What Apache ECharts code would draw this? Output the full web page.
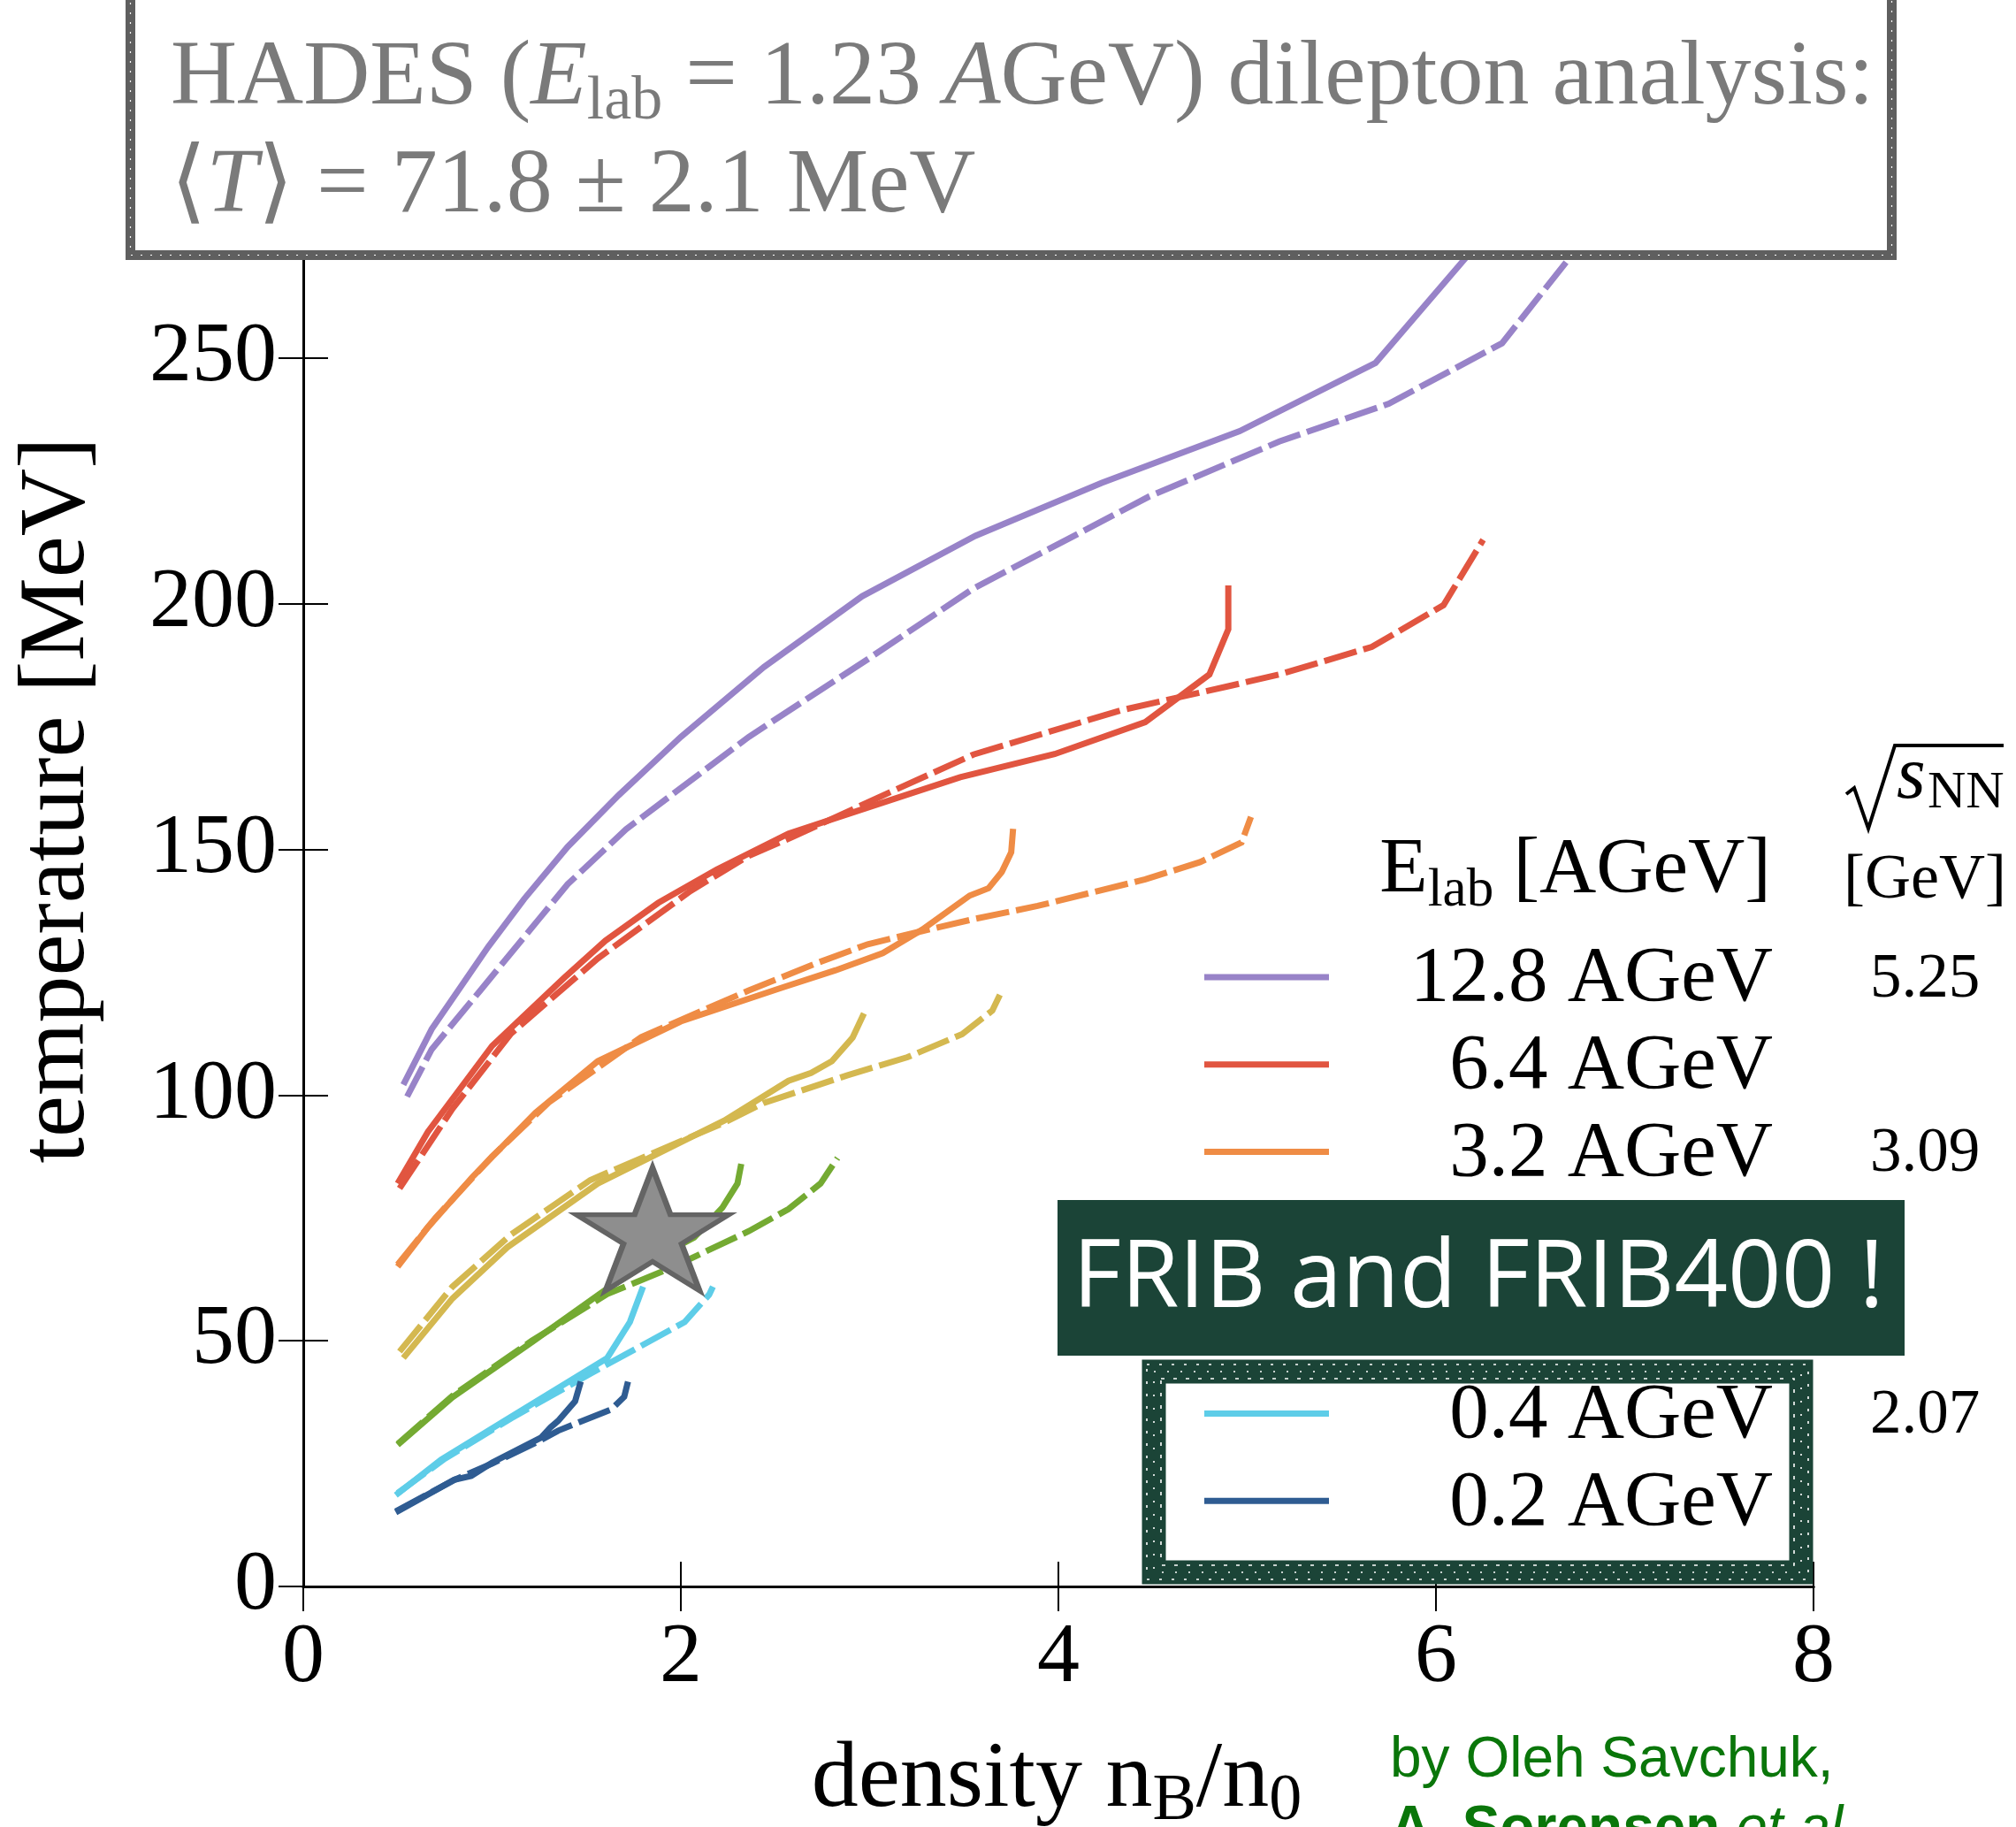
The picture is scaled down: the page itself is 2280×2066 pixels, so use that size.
<!DOCTYPE html>
<html><head><meta charset="utf-8">
<script src="https://cdn.jsdelivr.net/npm/echarts@6/dist/echarts.min.js"></script>
<style>html,body{margin:0;padding:0;background:#fff}#c{width:2280px;height:2066px}</style>
</head><body><div id="c"></div>
<script>
// ---------- data ----------
const energies = ['12.8 AGeV','6.4 AGeV','3.2 AGeV','1.6 AGeV','0.8 AGeV','0.4 AGeV','0.2 AGeV'];
const sqrtSNN  = ['5.25','','3.09','','','2.07',''];
const xTicks = [0, 2, 4, 6, 8];
const yTicks = [0, 50, 100, 150, 200, 250];
const yMaxHidden = 300;

const solid_12_8 = [[0.53,102.1],[0.68,113.4],[0.98,130.2],[1.17,139.9],[1.40,150.5],[1.67,161],[2.00,172.9],[2.44,187.1],[2.96,201.5],[3.56,213.8],[4.23,224.6],[4.96,235.1],[5.68,249],[6.16,270.5]];
const dashed_12_8 = [[0.55,99.7],[0.68,109.3],[0.94,121.4],[1.25,135.9],[1.40,142.9],[1.71,154.1],[2.36,172.9],[2.99,188.7],[3.55,203.1],[4.48,221.8],[5.17,233],[5.75,240.7],[6.35,253],[6.70,270]];
const solid_6_4 = [[0.50,82],[0.66,92.5],[1.00,110],[1.38,123.8],[1.60,131.4],[1.88,139.1],[2.19,145.9],[2.57,153.2],[2.98,158.4],[3.48,164.7],[3.98,169.4],[4.46,175.9],[4.80,185.6],[4.90,194.8],[4.90,203.7]];
const dashed_6_4 = [[0.51,81],[0.79,97.2],[1.10,112.5],[1.56,127.8],[2.05,141.5],[2.36,148.7],[2.59,152.5],[3.10,161.5],[3.55,169.3],[4.33,178.3],[4.90,183.2],[5.17,185.6],[5.66,191.2],[6.04,199.7],[6.25,213]];
const solid_3_2 = [[0.50,65.1],[0.66,73.1],[0.90,83.5],[1.23,96.4],[1.56,106.9],[2.00,115],[2.53,121.8],[2.82,125.4],[3.07,128.9],[3.28,133.7],[3.53,140.6],[3.63,142.1],[3.70,145.4],[3.75,149.4],[3.76,154.2]];
const dashed_3_2 = [[0.50,65.5],[0.70,75],[1.00,87.5],[1.30,98.5],[1.79,111.8],[2.36,121.3],[2.73,127],[2.99,130.7],[3.28,133.4],[3.55,135.8],[3.89,138.5],[4.46,143.9],[4.75,147.4],[4.97,151.4],[5.02,156.6]];
const solid_1_6 = [[0.53,46.5],[0.79,58.6],[1.08,69],[1.56,82],[2.23,94.8],[2.57,102.9],[2.69,104.5],[2.80,106.9],[2.91,111.7],[2.97,116.6]];
const dashed_1_6 = [[0.51,47.8],[0.79,61],[1.10,71.6],[1.52,82.7],[2.23,94.4],[2.44,98.4],[2.88,104],[3.20,107.7],[3.49,112.4],[3.65,117.2],[3.69,120.4]];
const solid_0_8 = [[0.50,28.8],[0.79,38.5],[1.21,49.7],[1.61,60.6],[1.86,66.7],[2.07,71],[2.22,77.1],[2.30,82],[2.32,86]];
const dashed_0_8 = [[0.50,29],[0.79,38.8],[1.21,50],[1.61,59.5],[1.94,64.7],[2.36,72.3],[2.57,76.8],[2.74,82],[2.83,87.2]];
const solid_0_4 = [[0.49,18.6],[0.73,25.8],[1.10,34.5],[1.61,46.5],[1.73,53.8],[1.80,61]];
const dashed_0_4 = [[0.50,19],[0.75,26],[1.10,34.2],[1.52,43.3],[2.02,53.8],[2.15,59.4],[2.17,61]];
const solid_0_2 = [[0.49,15.1],[0.80,21.7],[0.89,22.5],[1.00,25.2],[1.26,30.3],[1.31,32.4],[1.35,33.7],[1.44,37.7],[1.47,41.7]];
const dashed_0_2 = [[0.49,15.3],[0.80,21.7],[1.00,25],[1.25,29.6],[1.35,31.7],[1.63,36],[1.70,38.6],[1.72,41.7]];
const hadesPoint = [[1.85, 72.7]];

// ---------- styling ----------
const colors = ['#9883c8','#e15540','#ef8c45','#d4b850','#74aa32','#5ecde8','#2f5c92'];
const solidSets = [solid_12_8, solid_6_4, solid_3_2, solid_1_6, solid_0_8, solid_0_4, solid_0_2];
const dashedSets = [dashed_12_8, dashed_6_4, dashed_3_2, dashed_1_6, dashed_0_8, dashed_0_4, dashed_0_2];
const SERIF = '"Liberation Serif", "DejaVu Serif", serif';
const SANS = '"Liberation Sans", Arial, sans-serif';
const LW = 7;

const series = [];
energies.forEach((e, i) => {
  series.push({type:'line', name:e, data:solidSets[i], symbol:'none', showSymbol:false, animation:false, z:3,
    itemStyle:{color:colors[i]}, lineStyle:{color:colors[i], width:LW, cap:'butt', join:'miter'}});
  series.push({type:'line', name:e + ' (dashed)', data:dashedSets[i], symbol:'none', showSymbol:false, animation:false, z:3,
    itemStyle:{color:colors[i]}, lineStyle:{color:colors[i], width:LW, type:[38,8], cap:'butt', join:'miter'}});
});
series.push({type:'scatter', name:'HADES', data:hadesPoint, z:10, animation:false,
  symbol:'path://M50,0L61.23,34.55L97.55,34.55L68.17,55.9L79.39,90.45L50,69.1L20.61,90.45L31.83,55.9L2.45,34.55L38.77,34.55Z',
  symbolSize:[172,139], itemStyle:{color:'#8e8e8e', borderColor:'#646464', borderWidth:6, opacity:1}});

const axisCommon = {
  axisLine:{show:true, lineStyle:{color:'#000', width:3}},
  axisTick:{show:true, inside:true, length:28, lineStyle:{color:'#000', width:2}},
  splitLine:{show:false}
};

function txt(x, y, text, font, fill, align) {
  return {type:'text', x:x, y:y, z:60, silent:true,
    style:{text:text, x:0, y:0, font:font, fill:fill, textAlign:align || 'left', align:align || 'left', textVerticalAlign:'middle', verticalAlign:'middle'}};
}

const graphic = [];
// y axis title
graphic.push({type:'text', x:66, y:905, rotation:Math.PI/2, z:50, silent:true,
  style:{text:'temperature [MeV]', x:0, y:0, font:'106px ' + SERIF, fill:'#000', textAlign:'center', align:'center', textVerticalAlign:'middle', verticalAlign:'middle'}});
// x axis title
graphic.push({type:'text', x:1195, y:2014, z:50, silent:true,
  style:{text:'{n|density n}{s|B}{n|/n}{s|0}', x:0, y:0, fill:'#000', textAlign:'center', align:'center', textVerticalAlign:'middle', verticalAlign:'middle',
    rich:{n:{fontFamily:SERIF, fontSize:106, lineHeight:127, fill:'#000', color:'#000'},
          s:{fontFamily:SERIF, fontSize:74, lineHeight:74, padding:[48,0,0,0], fill:'#000', color:'#000'}}}});
// legend title
graphic.push({type:'text', x:2003, y:985, z:50, silent:true,
  style:{text:'{n|E}{s|lab}{n| [AGeV]}', x:0, y:0, textAlign:'right', align:'right', textVerticalAlign:'middle', verticalAlign:'middle',
    rich:{n:{fontFamily:SERIF, fontSize:89, lineHeight:104, fill:'#000', color:'#000'},
          s:{fontFamily:SERIF, fontSize:61, lineHeight:61, padding:[46,0,0,0], fill:'#000', color:'#000'}}}});
// legend rows (sample line, label, sqrt(s_NN) value)
energies.forEach((e, i) => {
  const yRow = 1105 + i * 98.7;
  graphic.push({type:'line', z:40, silent:true, shape:{x1:1362, y1:yRow, x2:1503, y2:yRow}, style:{stroke:colors[i], lineWidth:7}});
  graphic.push(txt(2005, yRow + 3, e, '89px ' + SERIF, '#000', 'right'));
  if (sqrtSNN[i]) graphic.push(txt(2177, yRow + 3, sqrtSNN[i], '71px ' + SERIF, '#000', 'center'));
});
// sqrt(s_NN) header
graphic.push({type:'polyline', z:50, silent:true, shape:{points:[[2088,898],[2097,891],[2113,937],[2143,843],[2266,843]]},
  style:{stroke:'#000', lineWidth:4, fill:null}});
graphic.push(txt(2145, 880, 's', 'italic 84px ' + SERIF, '#000'));
graphic.push(txt(2180, 897, 'NN', '60px ' + SERIF, '#000'));
graphic.push(txt(2177, 996, '[GeV]', '72px ' + SERIF, '#000', 'center'));

// HADES box
graphic.push({type:'rect', z:100, silent:true, shape:{x:147.5, y:-20, width:1992, height:308.5},
  style:{fill:'#fff', stroke:'#5f5f5f', lineWidth:11}});
graphic.push({type:'rect', z:101, silent:true, shape:{x:147.5, y:-20, width:1992, height:308.5},
  style:{fill:null, stroke:'#ffffff', lineWidth:1.2, lineDash:[2,9]}});
graphic.push({type:'text', x:193, y:29, z:102, silent:true,
  style:{text:'{n|HADES (}{i|E}{s|lab}{n| = 1.23 }{i|A}{n|GeV) dilepton analysis:}\n{n|⟨}{i|T}{n|⟩ = 71.8 ± 2.1 MeV}', x:0, y:0,
    textAlign:'left', align:'left', textVerticalAlign:'top', verticalAlign:'top',
    rich:{n:{fontFamily:SERIF, fontSize:104, lineHeight:122, fill:'#7a7a7a', color:'#7a7a7a'},
          i:{fontFamily:SERIF, fontStyle:'italic', fontSize:104, lineHeight:122, fill:'#7a7a7a', color:'#7a7a7a'},
          s:{fontFamily:SERIF, fontSize:70, lineHeight:70, padding:[52,0,0,0], fill:'#7a7a7a', color:'#7a7a7a'}}}});

// FRIB box
graphic.push({type:'rect', z:100, silent:true, shape:{x:1196, y:1357, width:958, height:176}, style:{fill:'#1b4437'}});
graphic.push({type:'text', x:1672, y:1448, z:102, silent:true,
  style:{text:'FRIB and FRIB400 !', x:0, y:0, font:'400 106px "Open Sans", "Noto Sans", sans-serif', fill:'#ffffff',
    textAlign:'center', align:'center', textVerticalAlign:'middle', verticalAlign:'middle'}});
// rough frame
graphic.push({type:'rect', z:100, silent:true, shape:{x:1305, y:1551, width:732, height:227}, style:{fill:null, stroke:'#1b4437', lineWidth:27}});
[[-8,[3,11]],[0,[2,13]],[8,[4,10]]].forEach(([o, d]) => {
  graphic.push({type:'rect', z:101, silent:true, shape:{x:1305 + o, y:1551 + o, width:732 - 2*o, height:227 - 2*o},
    style:{fill:null, stroke:'#ffffff', lineWidth:1.6, lineDash:d}});
});

// credit
graphic.push(txt(1572, 1991, 'by Oleh Savchuk,', '64px ' + SANS, '#0a760a'));
graphic.push({type:'text', x:1572, y:2069, z:200, silent:true,
  style:{text:'{b|A. Sorensen }{i|et al.}', x:0, y:0, textAlign:'left', align:'left', textVerticalAlign:'middle', verticalAlign:'middle',
    rich:{b:{fontFamily:SANS, fontWeight:'bold', fontSize:64, fill:'#0a760a', color:'#0a760a'},
          i:{fontFamily:SANS, fontStyle:'italic', fontSize:64, fill:'#0a760a', color:'#0a760a'}}}});

const option = {
  backgroundColor:'#ffffff',
  animation:false,
  grid:{left:343, right:229, top:127, bottom:272, containLabel:false, outerBoundsMode:'none'},
  xAxis:[
    Object.assign({type:'value', position:'bottom', min:xTicks[0], max:xTicks[xTicks.length-1], interval:xTicks[1]-xTicks[0],
      axisLabel:{show:true, margin:34, color:'#000', fontFamily:SERIF, fontSize:96}}, axisCommon),
    Object.assign({type:'value', position:'top', min:xTicks[0], max:xTicks[xTicks.length-1], interval:xTicks[1]-xTicks[0],
      axisLabel:{show:false}}, axisCommon)
  ],
  yAxis:[
    Object.assign({type:'value', position:'left', min:yTicks[0], max:yMaxHidden, interval:yTicks[1]-yTicks[0],
      axisLabel:{show:true, margin:30, color:'#000', fontFamily:SERIF, fontSize:96,
        formatter:v => (yTicks.indexOf(v) >= 0 ? String(v) : '')}}, axisCommon),
    Object.assign({type:'value', position:'right', min:yTicks[0], max:yMaxHidden, interval:yTicks[1]-yTicks[0],
      axisLabel:{show:false}}, axisCommon)
  ],
  tooltip:{show:false},
  series:series,
  graphic:{elements:graphic}
};

const chart = echarts.init(document.getElementById('c'), null, {renderer:'canvas', width:2280, height:2066});
chart.setOption(option);
</script>
</body></html>
